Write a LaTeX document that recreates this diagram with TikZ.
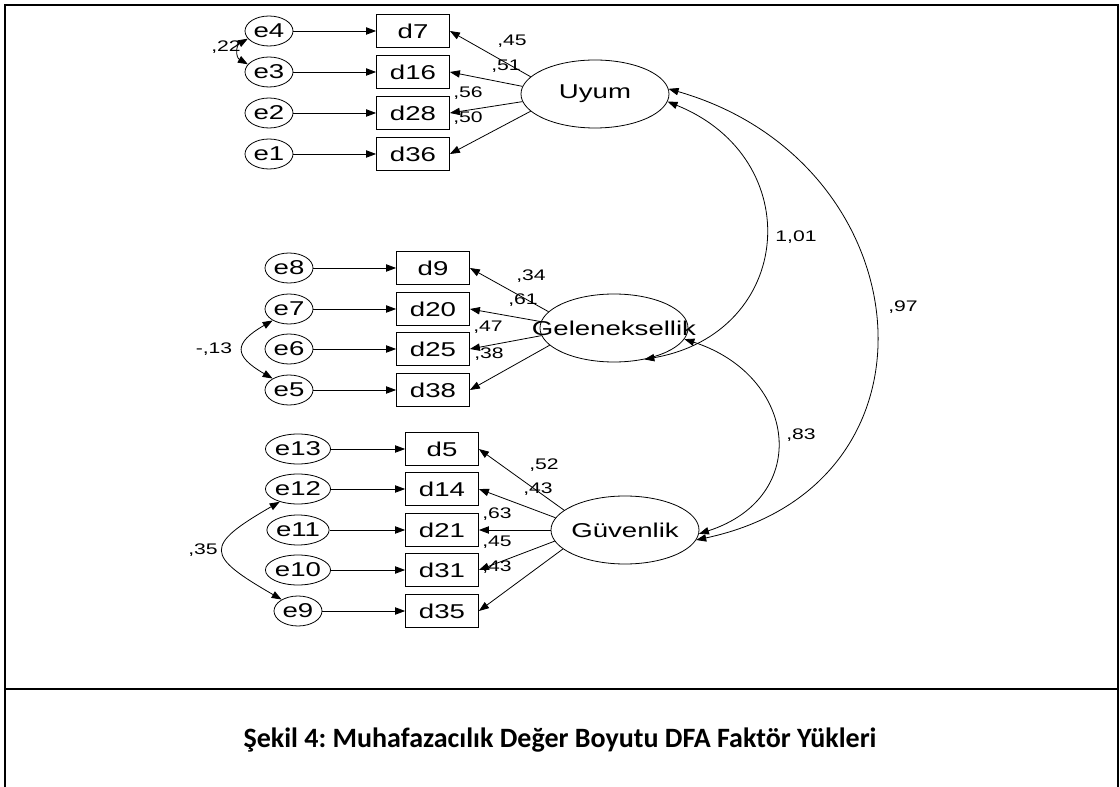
\documentclass[tikz,border=0pt]{standalone}
\usepackage{fontspec}
\setmainfont{Liberation Sans}
\newfontfamily\amosfont[FakeStretch=1.38]{Liberation Sans}
\newfontfamily\capfont{Carlito}
\usetikzlibrary{arrows.meta, shapes.geometric}
\frenchspacing

\begin{document}
\begin{tikzpicture}[x=0.75pt, y=-0.75pt,
    error/.style={ellipse, draw, line width=0.6pt, minimum width=36pt, minimum height=22.5pt, inner sep=0pt, font=\amosfont\fontsize{15}{15}\selectfont},
    item/.style={rectangle, draw, line width=0.6pt, minimum width=54.75pt, minimum height=25pt, inner sep=0pt, font=\amosfont\fontsize{15}{15}\selectfont},
    factor/.style={ellipse, draw, line width=0.6pt, minimum width=111pt, minimum height=51pt, inner sep=0pt, font=\amosfont\fontsize{15}{15}\selectfont},
    coef/.style={inner sep=0pt, font=\amosfont\fontsize{11.5}{12}\selectfont},
    arrow/.style={-{Triangle[length=7.5pt,width=5.5pt]}, line width=0.6pt},
    cov/.style={{Triangle[length=7.5pt,width=5.5pt]}-{Triangle[length=7.5pt,width=5.5pt]}, line width=0.6pt}
]
\useasboundingbox (0,0) rectangle (1120,787);

% Frame and caption
\draw[line width=1.8pt] (5,787) -- (5,5) -- (1118,5) -- (1118,787);
\draw[line width=1.8pt] (5,689) -- (1118,689);
\node[font=\capfont\bfseries\fontsize{21}{24}\selectfont] (caption) at (560,740) {Şekil 4: Muhafazacılık Değer Boyutu DFA Faktör Yükleri};

% Uyum
\node[factor] (uyum) at (595,94) {\makebox[0pt]{Uyum}};
\node[error] (e4) at (269,31) {e4};
\node[error] (e3) at (269,72) {e3};
\node[error] (e2) at (269,113) {e2};
\node[error] (e1) at (269,154) {e1};
\node[item] (d7) at (413,31) {d7};
\node[item] (d16) at (413,72) {d16};
\node[item] (d28) at (413,113) {d28};
\node[item] (d36) at (413,154) {d36};

% Geleneksellik
\node[factor] (gelen) at (614,328) {\makebox[0pt]{Geleneksellik}};
\node[error] (e8) at (289,268) {e8};
\node[error] (e7) at (289,309) {e7};
\node[error] (e6) at (289,349) {e6};
\node[error] (e5) at (289,390) {e5};
\node[item] (d9) at (433,268) {d9};
\node[item] (d20) at (433,309) {d20};
\node[item] (d25) at (433,349) {d25};
\node[item] (d38) at (433,390) {d38};

% Guvenlik
\node[factor] (guven) at (625,530) {\makebox[0pt]{Güvenlik}};
\node[error] (e13) at (298,449) {e13};
\node[error] (e12) at (298,489) {e12};
\node[error] (e11) at (298,530) {e11};
\node[error] (e10) at (298,570) {e10};
\node[error] (e9) at (298,611) {e9};
\node[item] (d5) at (442,449) {d5};
\node[item] (d14) at (442,489) {d14};
\node[item] (d21) at (442,530) {d21};
\node[item] (d31) at (442,570) {d31};
\node[item] (d35) at (442,611) {d35};

% Error arrows
\foreach \e/\d in {e4/d7, e3/d16, e2/d28, e1/d36, e8/d9, e7/d20, e6/d25, e5/d38, e13/d5, e12/d14, e11/d21, e10/d31, e9/d35}
  \draw[arrow] (\e) -- (\d);

% Loadings
\draw[arrow] (uyum.165) -- (d7.east);
\draw[arrow] (uyum.174) -- (d16.east);
\draw[arrow] (uyum.186) -- (d28.east);
\draw[arrow] (uyum.195) -- (d36.east);
\draw[arrow] (gelen.166) -- (d9.east);
\draw[arrow] (gelen.175) -- (d20.east);
\draw[arrow] (gelen.186) -- (d25.east);
\draw[arrow] (gelen.195) -- (d38.east);
\draw[arrow] (guven.162) -- (d5.east);
\draw[arrow] (guven.170) -- (d14.east);
\draw[arrow] (guven.180) -- (d21.east);
\draw[arrow] (guven.189) -- (d31.east);
\draw[arrow] (guven.197) -- (d35.east);

\node[coef] (l45) at (512,41) {,45};
\node[coef] (l51) at (506,66) {,51};
\node[coef] (l56) at (468,93) {,56};
\node[coef] (l50) at (468,118) {,50};
\node[coef] (l34) at (531,276) {,34};
\node[coef] (l61) at (523,300) {,61};
\node[coef] (l47) at (488,327) {,47};
\node[coef] (l38) at (489,354) {,38};
\node[coef] (l52) at (544,465) {,52};
\node[coef] (l43a) at (538,489) {,43};
\node[coef] (l63) at (497,514) {,63};
\node[coef] (l45b) at (497,542) {,45};
\node[coef] (l43b) at (497,567) {,43};

% Covariances
\draw[cov] (e4.200) to[out=210, in=150, looseness=1.4] (e3.160);
\draw[cov] (e7.215) to[out=210, in=150, looseness=2] (e5.145);
\draw[cov] (e12.215) to[out=210, in=150, looseness=2.3] (e9.145);
\draw[cov] (uyum.-6) to[out=-22, in=10, looseness=1.5] (gelen.-46);
\draw[cov] (uyum.4) to[out=-16, in=12, looseness=1.5] (guven.-8);
\draw[cov] (gelen.-9) to[out=-18, in=18, looseness=1.56] (guven.-3);

\node[coef] (l22) at (226,47) {,22};
\node[coef] (l13) at (214,349) {-,13};
\node[coef] (l35) at (203,550) {,35};
\node[coef] (l101) at (796,237) {1,01};
\node[coef] (l97) at (903,307) {,97};
\node[coef] (l83) at (801,435) {,83};

\end{tikzpicture}
\end{document}
